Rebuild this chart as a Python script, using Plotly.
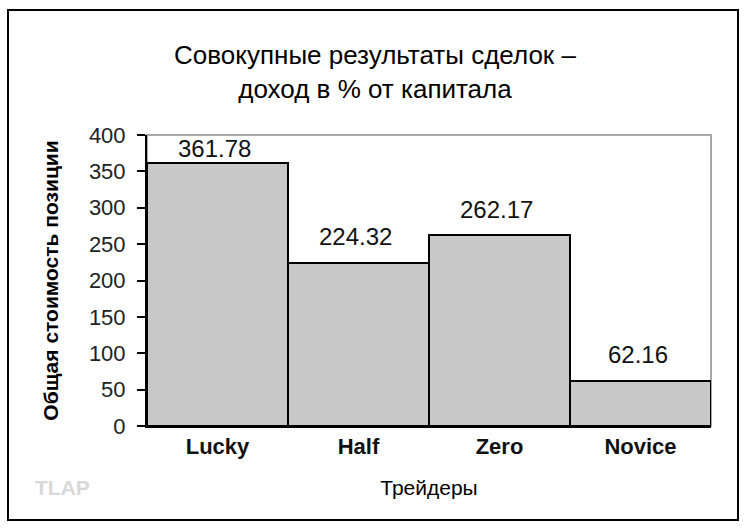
import plotly.graph_objects as go

traders = ["Lucky", "Half", "Zero", "Novice"]
returns = [361.78, 224.32, 262.17, 62.16]
y_ticks = [0, 50, 100, 150, 200, 250, 300, 350, 400]

title_text = "Совокупные результаты сделок –<br>доход в % от капитала"
x_title = "Трейдеры"
y_title = "Общая стоимость позиции"

FONT = "Liberation Sans, Arial, sans-serif"
W, H = 750, 532
ML, MR, MT, MB = 147, 39, 135, 106
ymax = 400
plot_h = H - MT - MB
px_per_unit = plot_h / ymax

fig = go.Figure()
fig.add_trace(go.Bar(
    x=traders, y=returns,
    marker=dict(color="#C8C8C8", line=dict(color="black", width=2)),
    hoverinfo="x+y", showlegend=False,
))

for t, v in zip(traders, returns):
    shift = min(26, (ymax - v) * px_per_unit - 13)
    fig.add_annotation(x=t, y=v, text=f"{v:.2f}", showarrow=False,
                       yanchor="middle", yshift=shift, xshift=-3,
                       font=dict(family=FONT, size=24, color="#111"))

# outer chart border
fig.add_shape(type="rect", xref="paper", yref="paper",
              x0=(8 - ML) / (W - ML - MR), x1=(738 - ML) / (W - ML - MR),
              y0=(H - MB - 520) / plot_h, y1=(H - MB - 10) / plot_h,
              line=dict(color="black", width=2), layer="below")
# plot area frame (gray)
fig.add_shape(type="rect", xref="paper", yref="paper", x0=0, x1=1, y0=0, y1=1,
              line=dict(color="#A8A8A8", width=2), layer="below")

fig.add_annotation(text="TLAP", xref="paper", yref="paper",
                   x=(62 - ML) / (W - ML - MR), y=(H - MB - 487) / plot_h,
                   xanchor="center", yanchor="middle",
                   showarrow=False, font=dict(family=FONT, size=21, color="#D8D8D8", weight="bold"))

fig.update_layout(
    width=W, height=H, autosize=False,
    margin=dict(l=ML, r=MR, t=MT, b=MB, pad=0),
    paper_bgcolor="white", plot_bgcolor="white",
    bargap=0,
    title=dict(text=title_text, x=0.5, xref="container", xanchor="center",
               y=1 - 64 / H, yref="container", yanchor="middle",
               font=dict(family=FONT, size=26, color="black")),
    xaxis=dict(range=[-0.5, 3.5], showline=True, linecolor="black", linewidth=2,
               ticks="", showgrid=False,
               tickfont=dict(family=FONT, size=22, color="#111", weight="bold"),
               title=dict(text=x_title, standoff=22,
                          font=dict(family=FONT, size=21, color="black"))),
    yaxis=dict(range=[0, ymax], tickvals=y_ticks, showline=True, linecolor="black",
               linewidth=2, ticks="outside", ticklen=8, tickcolor="black", tickwidth=2,
               ticklabelstandoff=7,
               showgrid=False, zeroline=False,
               tickfont=dict(family=FONT, size=22, color="#222"),
               title=dict(text=y_title, standoff=25,
                          font=dict(family=FONT, size=21, color="black", weight="bold"))),
)

fig.write_html("out.html")
